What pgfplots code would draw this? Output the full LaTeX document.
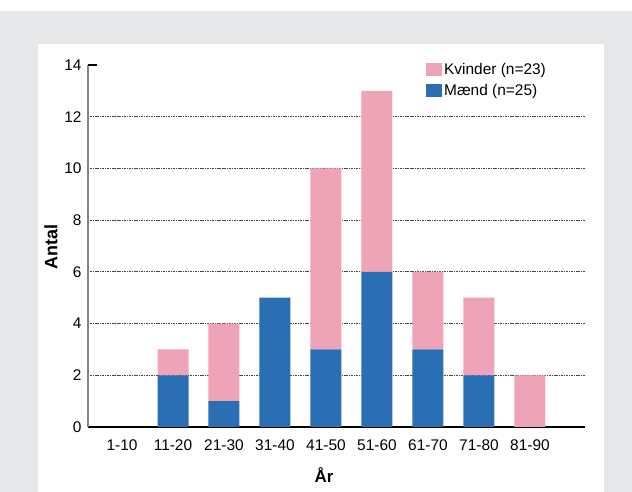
\documentclass[border=0pt]{standalone}
\usepackage{fontspec}
\setmainfont{Liberation Sans}
\usepackage{pgfplots}
\pgfplotsset{compat=1.18}
\definecolor{bg}{HTML}{E6E7E8}
\definecolor{pinkbar}{HTML}{EFA3B6}
\definecolor{bluebar}{HTML}{2A6FB4}
\definecolor{spine}{HTML}{8A827E}
\definecolor{gridc}{HTML}{4A4545}
\begin{document}
\begin{tikzpicture}
\fill[white] (0bp,0bp) rectangle (632bp,492bp);
\fill[bg] (0bp,0bp) rectangle (632bp,481bp);
\fill[white] (38bp,0bp) rectangle (604bp,448bp);
\begin{axis}[
  at={(88bp,65bp)}, anchor=south west,
  scale only axis, width=497bp, height=362bp,
  xmin=-0.667, xmax=9.08, ymin=0, ymax=14,
  ybar stacked, bar width=31bp,
  axis x line=bottom, axis y line=left,
  x axis line style={-, black, line width=1.4pt},
  y axis line style={-, spine, line width=2.6pt},
  xtick={0,...,8},
  xticklabels={1-10,11-20,21-30,31-40,41-50,51-60,61-70,71-80,81-90},
  ytick={0,2,...,12},
  extra y ticks={14},
  extra y tick style={grid=none, major tick length=9bp, tick align=inside, tick style={draw=black, line width=1.2pt}},
  major tick length=0pt,
  ymajorgrids,
  grid style={gridc, dash pattern=on 1.1pt off 0.6pt, line width=1.2pt},
  /pgf/number format/assume math mode=true,
  ticklabel style={font=\fontsize{15.5}{17}\selectfont, text=black},
  yticklabel style={xshift=-3bp},
  xticklabel style={yshift=-9bp},
  xlabel={År},
  ylabel={Antal},
  xlabel style={font=\fontsize{17}{19}\bfseries, at={(axis description cs:0.475,-0.1326)}, anchor=center},
  ylabel style={font=\fontsize{18}{20}\bfseries, at={(axis description cs:-0.0744,0.497)}, anchor=center},
  legend style={at={(axis description cs:0.68,1.01)}, anchor=north west, draw=none, fill=none,
    font=\fontsize{15.5}{17}\selectfont, row sep=4bp, inner sep=0pt},
  legend cell align=left,
  reverse legend,
  legend image code/.code={\fill[#1] (0bp,-6.5bp) rectangle (16bp,6.5bp);},
]
\addplot[fill=bluebar, draw=none] coordinates {(0,0) (1,2) (2,1) (3,5) (4,3) (5,6) (6,3) (7,2) (8,0)};
\addlegendentry{Mænd (n=25)}
\addplot[fill=pinkbar, draw=none] coordinates {(0,0) (1,1) (2,3) (3,0) (4,7) (5,7) (6,3) (7,3) (8,2)};
\addlegendentry{Kvinder (n=23)}
\end{axis}
\end{tikzpicture}
\end{document}
